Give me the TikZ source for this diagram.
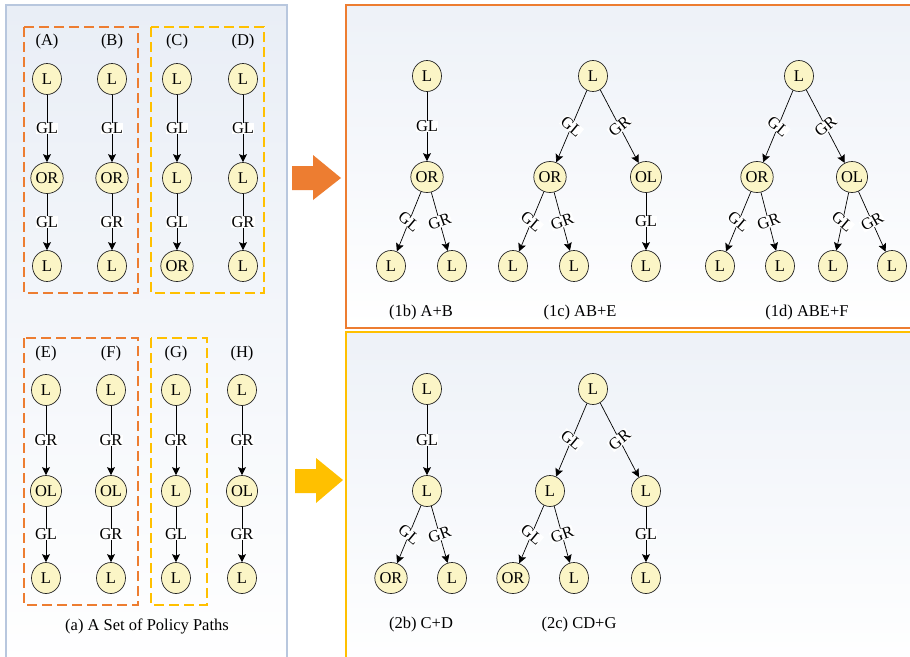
\documentclass[tikz,border=0pt]{standalone}
\usepackage{fontspec}
\setmainfont{Liberation Serif}
\usetikzlibrary{shapes.geometric,arrows.meta}
\definecolor{orng}{HTML}{ED7D31}
\definecolor{yel}{HTML}{FFC000}
\definecolor{pbord}{HTML}{B8C7DE}
\definecolor{nfill}{HTML}{FBF5C6}
\definecolor{bgblue}{HTML}{E9EEF6}
\tikzset{
  st/.style={ellipse, draw=black!85, line width=0.7pt, fill=nfill, minimum width=29pt, minimum height=31pt, inner sep=0pt},
  lab/.style={fill=white, inner sep=0.4pt},
  ar/.style={-{Stealth[length=8pt,width=8pt,inset=1.5pt]}, line width=0.7pt},
  panel/.style={line width=2pt},
  dbox/.style={line width=1.8pt, dash pattern=on 10pt off 5pt},
  capt/.style={inner sep=0pt}
}
\begin{document}
\begin{tikzpicture}[x=1pt,y=-1pt,font=\fontsize{16.5}{19}\selectfont]
\useasboundingbox (0,0) rectangle (910,656);
\clip (0,0) rectangle (910,656);
% panels
\fill[white] (0,0) rectangle (910,656);
\shade[top color=bgblue, bottom color=white] (6,5) rectangle (287,670);
\draw[panel, draw=pbord] (6,5) rectangle (287,670);
\shade[top color=bgblue!80, bottom color=white] (346,5) rectangle (930,328);
\draw[panel, draw=orng] (346,5) rectangle (930,328);
\shade[top color=bgblue!80, bottom color=white] (346,332) rectangle (930,670);
\draw[panel, draw=yel] (346,332) rectangle (930,670);
% dashed groups
\draw[dbox, draw=orng] (24,27) rectangle (138,293);
\draw[dbox, draw=yel] (151,27) rectangle (264,293);
\draw[dbox, draw=orng] (24,338) rectangle (138,605);
\draw[dbox, draw=yel] (151,338) rectangle (207,605);
% big arrows
\fill[orng] (292,166) -- (313,166) -- (313,155) -- (341,178) -- (313,200) -- (313,190) -- (292,190) -- cycle;
\fill[yel] (295,469) -- (316,469) -- (316,458) -- (343,480) -- (316,503) -- (316,493) -- (295,493) -- cycle;
% top policy paths
\foreach \n/\x/\a/\b/\c/\e/\f in {A/47/L/OR/L/GL/GL, B/112/L/OR/L/GL/GR, C/177/L/L/OR/GL/GL, D/243/L/L/L/GL/GR}{
  \node[capt] (\n t) at (\x,42) {(\n)};
  \node[st] (\n1) at (\x,79) {\a};
  \node[st] (\n2) at (\x,178) {\b};
  \node[st] (\n3) at (\x,266) {\c};
  \draw[ar] (\n1) -- node[lab] {\e} (\n2);
  \draw[ar] (\n2) -- node[lab] {\f} (\n3);
}
% bottom policy paths
\foreach \n/\x/\a/\b/\c/\e/\f in {E/46/L/OL/L/GR/GL, F/111/L/OL/L/GR/GR, G/176/L/L/L/GR/GL, H/242/L/OL/L/GR/GR}{
  \node[capt] (\n t) at (\x,354) {(\n)};
  \node[st] (\n1) at (\x,390) {\a};
  \node[st] (\n2) at (\x,491) {\b};
  \node[st] (\n3) at (\x,578) {\c};
  \draw[ar] (\n1) -- node[lab] {\e} (\n2);
  \draw[ar] (\n2) -- node[lab] {\f} (\n3);
}
\node[capt] (capa) at (147,626) {(a) A Set of Policy Paths};
% tree 1b
\node[st] (ba) at (427,76) {L};
\node[st] (bb) at (427,177) {OR};
\node[st] (bc) at (391,266) {L};
\node[st] (bd) at (452,266) {L};
\draw[ar] (ba) -- node[lab] {GL} (bb);
\draw[ar] (bb) -- node[lab, rotate=-40] {GL} (bc);
\draw[ar] (bb) -- node[lab, rotate=20] {GR} (bd);
\node[capt] (cap1b) at (421,313) {(1b) A+B};
% tree 1c
\node[st] (ca) at (593,76) {L};
\node[st] (cb) at (550,177) {OR};
\node[st] (cc) at (646,177) {OL};
\node[st] (cd) at (513,266) {L};
\node[st] (ce) at (574,266) {L};
\node[st] (cf) at (646,266) {L};
\draw[ar] (ca) -- node[lab, rotate=-40] {GL} (cb);
\draw[ar] (ca) -- node[lab, rotate=40] {GR} (cc);
\draw[ar] (cb) -- node[lab, rotate=-40] {GL} (cd);
\draw[ar] (cb) -- node[lab, rotate=20] {GR} (ce);
\draw[ar] (cc) -- node[lab] {GL} (cf);
\node[capt] (cap1c) at (580,313) {(1c) AB+E};
% tree 1d
\node[st] (da) at (799,76) {L};
\node[st] (db) at (757,177) {OR};
\node[st] (dc) at (852,177) {OL};
\node[st] (dd) at (720,266) {L};
\node[st] (de) at (780,266) {L};
\node[st] (df) at (833,266) {L};
\node[st] (dg) at (892,266) {L};
\draw[ar] (da) -- node[lab, rotate=-40] {GL} (db);
\draw[ar] (da) -- node[lab, rotate=40] {GR} (dc);
\draw[ar] (db) -- node[lab, rotate=-40] {GL} (dd);
\draw[ar] (db) -- node[lab, rotate=20] {GR} (de);
\draw[ar] (dc) -- node[lab, rotate=-40] {GL} (df);
\draw[ar] (dc) -- node[lab, rotate=30] {GR} (dg);
\node[capt] (cap1d) at (807,313) {(1d) ABE+F};
% tree 2b
\node[st] (ea) at (427,389) {L};
\node[st] (eb) at (427,491) {L};
\node[st] (ec) at (391,578) {OR};
\node[st] (ed) at (452,578) {L};
\draw[ar] (ea) -- node[lab] {GL} (eb);
\draw[ar] (eb) -- node[lab, rotate=-40] {GL} (ec);
\draw[ar] (eb) -- node[lab, rotate=20] {GR} (ed);
\node[capt] (cap2b) at (421,625) {(2b) C+D};
% tree 2c
\node[st] (fa) at (593,389) {L};
\node[st] (fb) at (550,491) {L};
\node[st] (fc) at (646,491) {L};
\node[st] (fd) at (513,578) {OR};
\node[st] (fe) at (574,578) {L};
\node[st] (ff) at (646,578) {L};
\draw[ar] (fa) -- node[lab, rotate=-40] {GL} (fb);
\draw[ar] (fa) -- node[lab, rotate=40] {GR} (fc);
\draw[ar] (fb) -- node[lab, rotate=-40] {GL} (fd);
\draw[ar] (fb) -- node[lab, rotate=20] {GR} (fe);
\draw[ar] (fc) -- node[lab] {GL} (ff);
\node[capt] (cap2c) at (579,625) {(2c) CD+G};
\end{tikzpicture}
\end{document}
